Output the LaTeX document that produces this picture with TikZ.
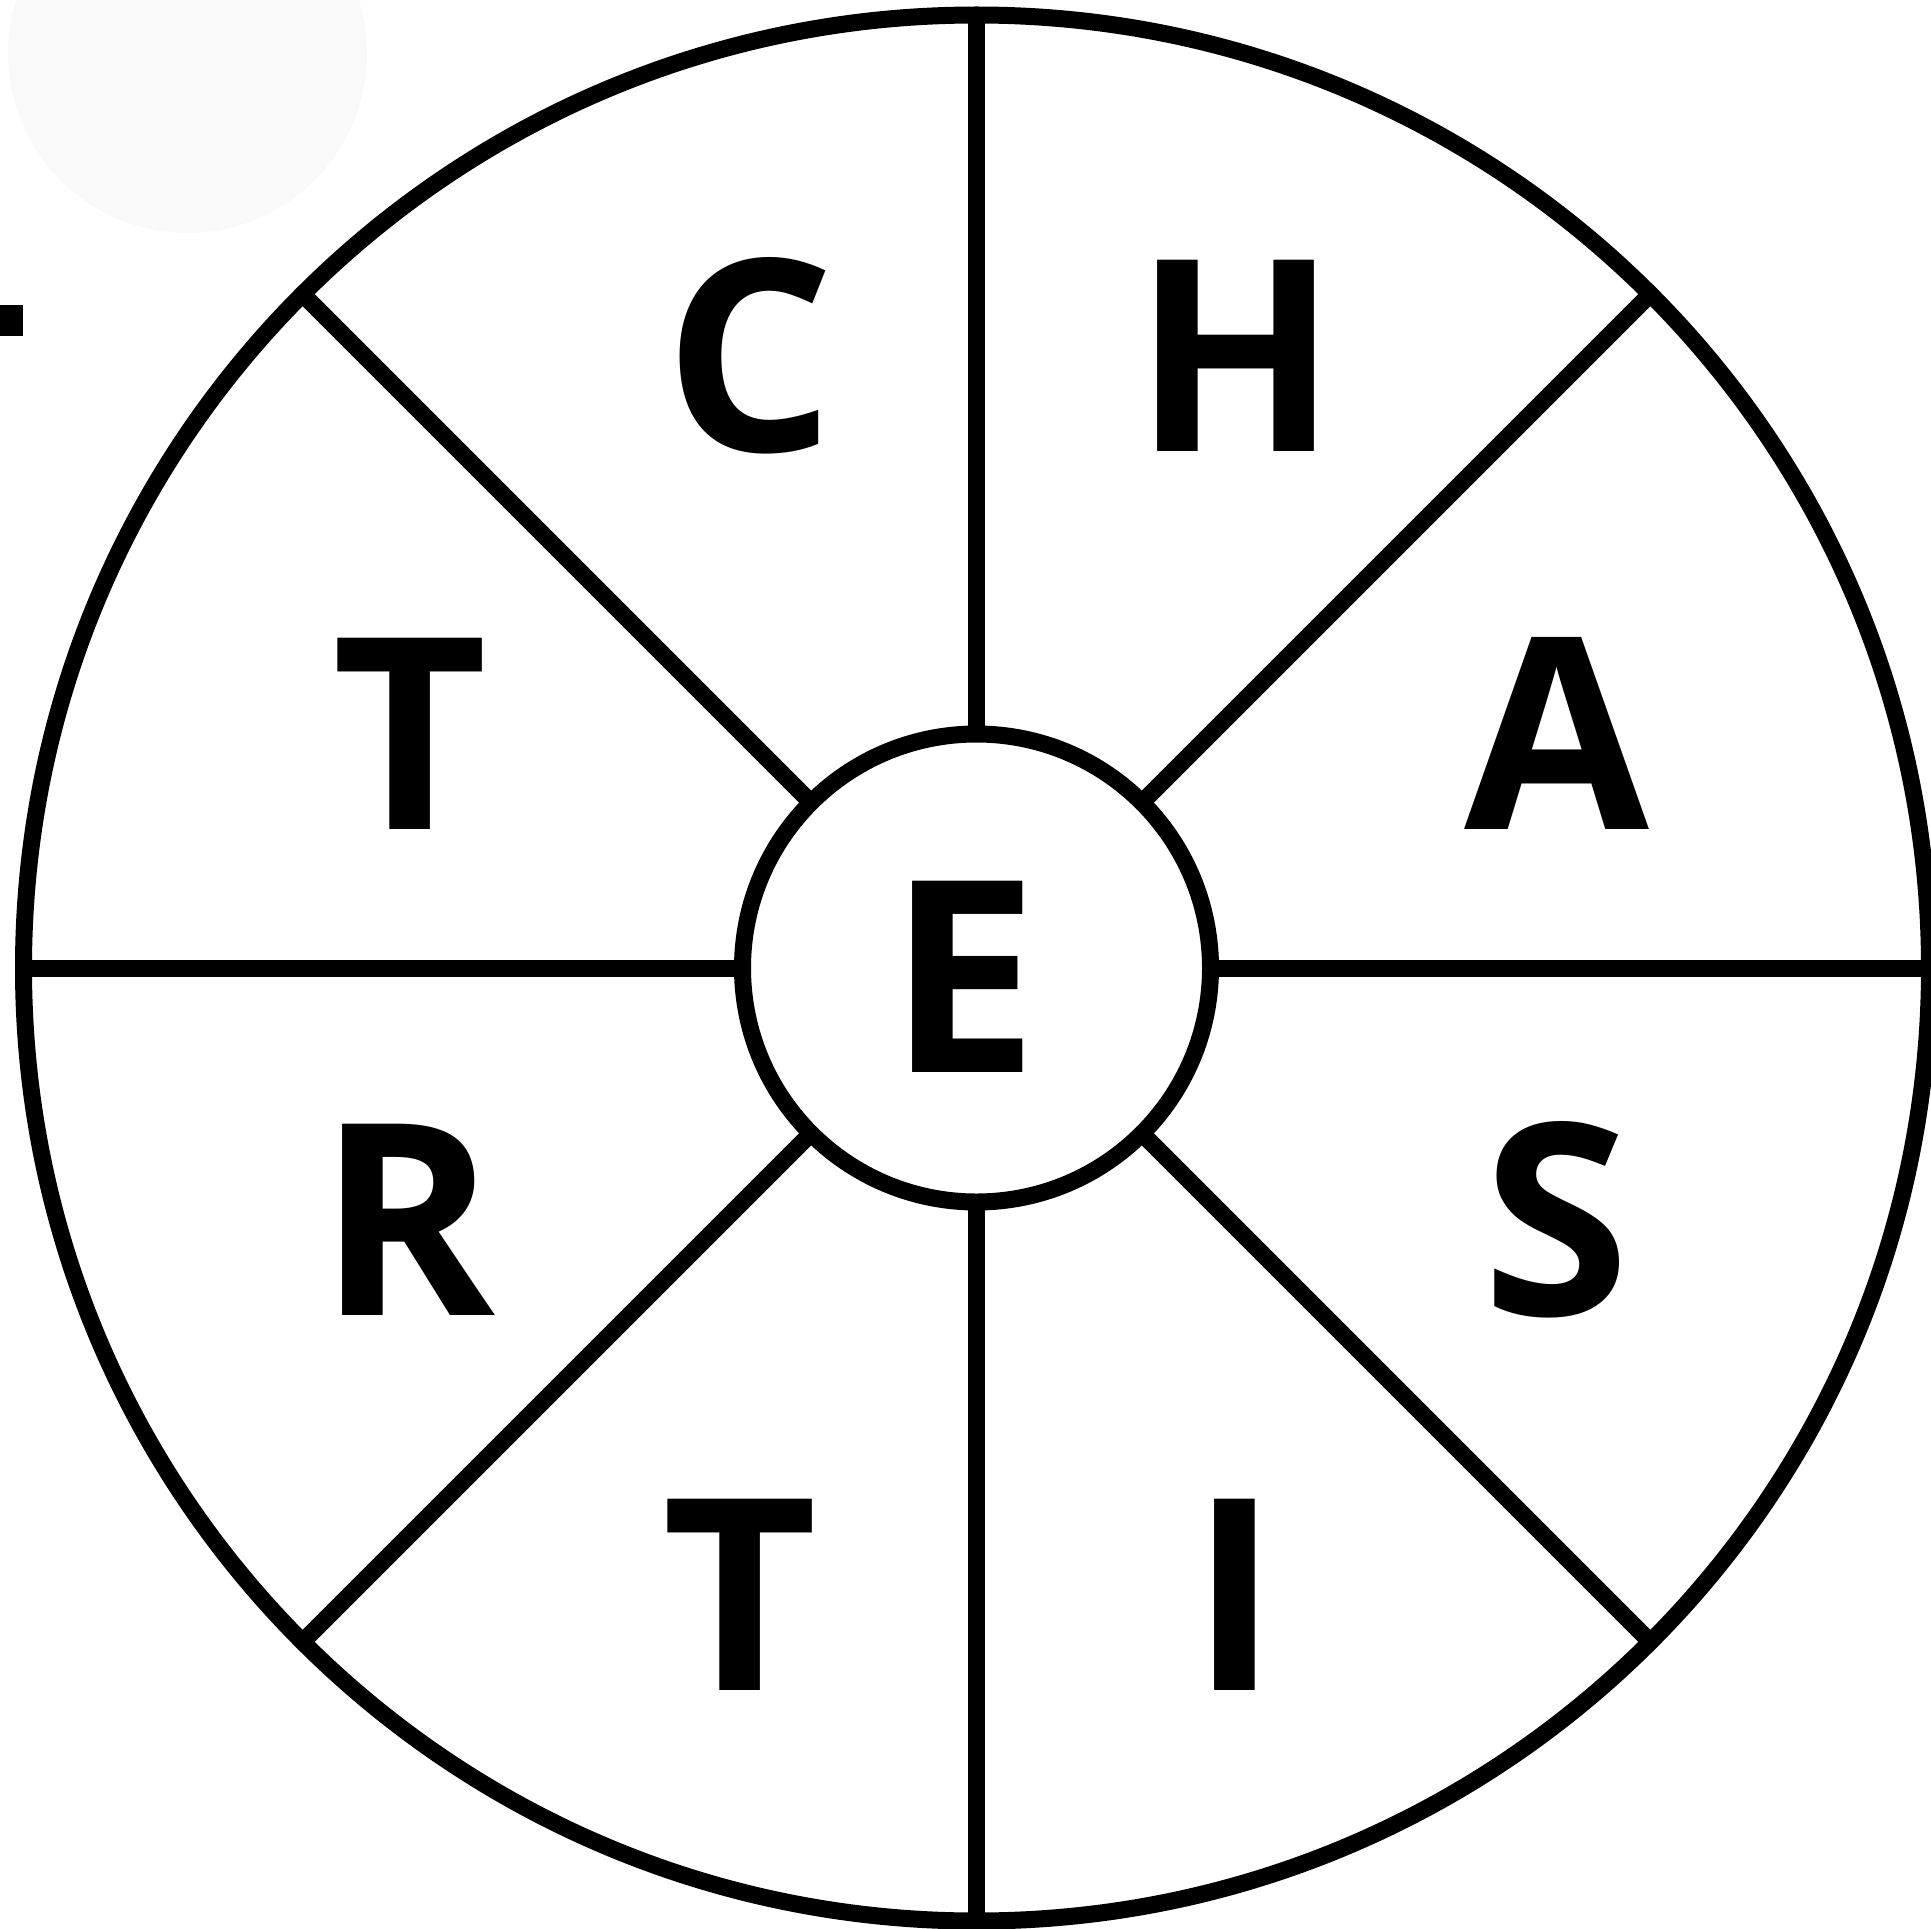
\documentclass[tikz,border=0pt]{standalone}
\usepackage{fontspec}
\usepackage{xcolor}
\setmainfont{Open Sans}
\usetikzlibrary{positioning,calc}
\definecolor{wheelink}{RGB}{0,0,0}
\definecolor{ghostgray}{RGB}{249,249,249}
\tikzset{
  ring/.style={draw=wheelink, circle, line width=17pt, inner sep=0pt, outer sep=0pt},
  spoke/.style={draw=wheelink, line width=17pt},
  letter/.style={inner sep=0pt, anchor=base, font=\fontsize{268}{300}\selectfont\bfseries}
}
\begin{document}
\begin{tikzpicture}[x=1pt, y=-1pt]
        \useasboundingbox (0,0) rectangle (1931,1929);
        \fill[ghostgray] (187.5,53.5) circle (179.5);
        \fill[wheelink] (0,305) rectangle (23,336);
        \node[ring, minimum size=1906pt] (wheel) at (976.5,968) {};
        \node[ring, fill=white, minimum size=468pt] (hub) at (976.5,968) {};
        \draw[spoke] (hub.0) -- (wheel.0);
        \draw[spoke] (hub.45) -- (wheel.45);
        \draw[spoke] (hub.90) -- (wheel.90);
        \draw[spoke] (hub.135) -- (wheel.135);
        \draw[spoke] (hub.180) -- (wheel.180);
        \draw[spoke] (hub.225) -- (wheel.225);
        \draw[spoke] (hub.270) -- (wheel.270);
        \draw[spoke] (hub.315) -- (wheel.315);
        \node[letter] (lC) at (750,451) {C};
        \node[letter] (lH) at (1236,451) {H};
        \node[letter] (lT) at (410,829) {T};
        \node[letter] (lA) at (1557,829) {A};
        \node[letter] (lE) at (964,1072) {E};
        \node[letter] (lR) at (407,1315) {R};
        \node[letter] (lS) at (1556,1315) {S};
        \node[letter] (lTb) at (740,1690) {T};
        \node[letter] (lI) at (1235,1690) {I};
      \end{tikzpicture}
\end{document}
